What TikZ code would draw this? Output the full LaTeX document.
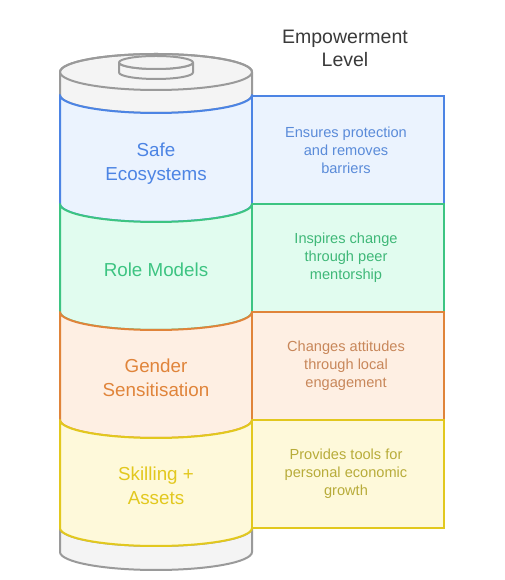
\documentclass[tikz,border=0pt]{standalone}
\usepackage{fontspec}
\setmainfont{Liberation Sans}
\definecolor{bS}{HTML}{4C84E4}\definecolor{bF}{HTML}{EBF3FE}\definecolor{bT}{HTML}{5A8BD9}
\definecolor{gS}{HTML}{3DC482}\definecolor{gF}{HTML}{E1FCEF}\definecolor{gT}{HTML}{3FB878}
\definecolor{oS}{HTML}{E0843A}\definecolor{oF}{HTML}{FEEFE3}\definecolor{oT}{HTML}{C8875A}
\definecolor{yS}{HTML}{E2C81E}\definecolor{yF}{HTML}{FEF9DA}\definecolor{yT}{HTML}{B8AC3A}
\definecolor{kS}{HTML}{9A9A9A}\definecolor{kF}{HTML}{F4F4F4}\definecolor{tT}{HTML}{3A3A3A}
\tikzset{
  seg/.style={line width=2pt, line join=round},
  biglabel/.style={align=center, font=\fontsize{18.8}{24}\selectfont},
  boxlabel/.style={align=center, font=\fontsize{14.6}{18}\selectfont},
  sidebox/.style={line width=2pt},
}
\newcommand{\cylseg}[4]{% top, bottom, stroke, fill
  \path[seg, draw=#3, fill=#4] (60,#1) -- (60,#2) arc[start angle=180, end angle=360, x radius=96, y radius=18] -- (252,#1) arc[start angle=0, end angle=-180, x radius=96, y radius=18] -- cycle;}
\begin{document}
\begin{tikzpicture}[x=1pt,y=1pt]
\useasboundingbox (0,0) rectangle (504,580);
% top gray cap
\path[seg, draw=kS, fill=kF] (60,508) -- (60,485) arc[start angle=180, end angle=360, x radius=96, y radius=18] -- (252,508) arc[start angle=0, end angle=180, x radius=96, y radius=18] -- cycle;
\draw[seg, draw=kS] (156,508) ellipse[x radius=96, y radius=18];
% knob
\path[seg, draw=kS, fill=kF] (119,517.5) -- (119,507.5) arc[start angle=180, end angle=360, x radius=37, y radius=6.5] -- (193,517.5) arc[start angle=0, end angle=-180, x radius=37, y radius=6.5] -- cycle;
\draw[seg, draw=kS, fill=kF] (156,517.5) ellipse[x radius=37, y radius=6.5];
% bottom gray
\cylseg{52}{28}{kS}{kF}
% sections
\cylseg{485}{376}{bS}{bF}
\cylseg{376}{268}{gS}{gF}
\cylseg{268}{160}{oS}{oF}
\cylseg{160}{52}{yS}{yF}
% labels
\node[biglabel, text=bS] (l1) at (156,416) {Safe\\Ecosystems};
\node[biglabel, text=gS] (l2) at (156,310) {Role Models};
\node[biglabel, text=oS] (l3) at (156,202) {Gender\\Sensitisation};
\node[biglabel, text=yS] (l4) at (156,94) {Skilling +\\Assets};
% side boxes
\draw[sidebox, draw=bS, fill=bF] (252,484) rectangle (444,376);
\draw[sidebox, draw=gS, fill=gF] (252,376) rectangle (444,268);
\draw[sidebox, draw=oS, fill=oF] (252,268) rectangle (444,160);
\draw[sidebox, draw=yS, fill=yF] (252,160) rectangle (444,52);
\node[boxlabel, text=bT] (b1) at (346,430) {Ensures protection\\and removes\\barriers};
\node[boxlabel, text=gT] (b2) at (346,322) {Inspires change\\through peer\\mentorship};
\node[boxlabel, text=oT] (b3) at (346,214) {Changes attitudes\\through local\\engagement};
\node[boxlabel, text=yT] (b4) at (346,106) {Provides tools for\\personal economic\\growth};
% title
\node[align=center, text=tT, font=\fontsize{19.5}{23}\selectfont] (title) at (345,532) {Empowerment\\Level};
\end{tikzpicture}
\end{document}
